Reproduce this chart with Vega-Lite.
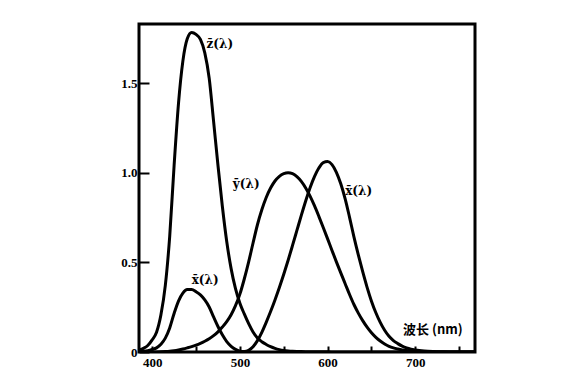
{
  "$schema": "https://vega.github.io/schema/vega-lite/v6.json",
  "autosize": {"type": "none"},
  "padding": {"left": 139, "top": 24, "right": 105, "bottom": 38},
  "width": 336,
  "height": 328,
  "background": "white",
  "config": {
    "view": {"stroke": "black", "strokeWidth": 3},
    "axis": {"grid": false, "domain": false, "tickColor": "black", "tickWidth": 2, "labelColor": "black", "labelFont": "Liberation Serif", "labelFontWeight": "bold", "labelFontSize": 13, "title": null}
  },
  "datasets": {
    "cmf": [
      {"wl":385,"fn":"x","v":0.0022},{"wl":390,"fn":"x","v":0.0042},{"wl":395,"fn":"x","v":0.0077},{"wl":400,"fn":"x","v":0.0143},{"wl":405,"fn":"x","v":0.0232},{"wl":410,"fn":"x","v":0.0435},{"wl":415,"fn":"x","v":0.0776},{"wl":420,"fn":"x","v":0.1344},{"wl":425,"fn":"x","v":0.2148},{"wl":430,"fn":"x","v":0.2839},{"wl":435,"fn":"x","v":0.3285},{"wl":440,"fn":"x","v":0.3483},{"wl":445,"fn":"x","v":0.3481},{"wl":450,"fn":"x","v":0.3362},{"wl":455,"fn":"x","v":0.3187},{"wl":460,"fn":"x","v":0.2908},{"wl":465,"fn":"x","v":0.2511},{"wl":470,"fn":"x","v":0.1954},{"wl":475,"fn":"x","v":0.1421},{"wl":480,"fn":"x","v":0.0956},{"wl":485,"fn":"x","v":0.0580},{"wl":490,"fn":"x","v":0.0320},{"wl":495,"fn":"x","v":0.0147},{"wl":500,"fn":"x","v":0.0049},{"wl":505,"fn":"x","v":0.0024},{"wl":510,"fn":"x","v":0.0093},{"wl":515,"fn":"x","v":0.0291},{"wl":520,"fn":"x","v":0.0633},{"wl":525,"fn":"x","v":0.1096},{"wl":530,"fn":"x","v":0.1655},{"wl":535,"fn":"x","v":0.2258},{"wl":540,"fn":"x","v":0.2904},{"wl":545,"fn":"x","v":0.3597},{"wl":550,"fn":"x","v":0.4334},{"wl":555,"fn":"x","v":0.5121},{"wl":560,"fn":"x","v":0.5945},{"wl":565,"fn":"x","v":0.6784},{"wl":570,"fn":"x","v":0.7621},{"wl":575,"fn":"x","v":0.8425},{"wl":580,"fn":"x","v":0.9163},{"wl":585,"fn":"x","v":0.9786},{"wl":590,"fn":"x","v":1.0263},{"wl":595,"fn":"x","v":1.0567},{"wl":600,"fn":"x","v":1.0622},{"wl":605,"fn":"x","v":1.0456},{"wl":610,"fn":"x","v":1.0026},{"wl":615,"fn":"x","v":0.9384},{"wl":620,"fn":"x","v":0.8545},{"wl":625,"fn":"x","v":0.7514},{"wl":630,"fn":"x","v":0.6424},{"wl":635,"fn":"x","v":0.5419},{"wl":640,"fn":"x","v":0.4479},{"wl":645,"fn":"x","v":0.3608},{"wl":650,"fn":"x","v":0.2835},{"wl":655,"fn":"x","v":0.2187},{"wl":660,"fn":"x","v":0.1649},{"wl":665,"fn":"x","v":0.1212},{"wl":670,"fn":"x","v":0.0874},{"wl":675,"fn":"x","v":0.0636},{"wl":680,"fn":"x","v":0.0468},{"wl":685,"fn":"x","v":0.0329},{"wl":690,"fn":"x","v":0.0227},{"wl":695,"fn":"x","v":0.0158},{"wl":700,"fn":"x","v":0.0114},{"wl":710,"fn":"x","v":0.0058},{"wl":720,"fn":"x","v":0.0029},{"wl":730,"fn":"x","v":0.0014},{"wl":740,"fn":"x","v":0.0007},{"wl":750,"fn":"x","v":0.0003},{"wl":760,"fn":"x","v":0.0002},{"wl":770,"fn":"x","v":0.0001},
      {"wl":385,"fn":"y","v":0.0001},{"wl":390,"fn":"y","v":0.0001},{"wl":395,"fn":"y","v":0.0002},{"wl":400,"fn":"y","v":0.0004},{"wl":405,"fn":"y","v":0.0006},{"wl":410,"fn":"y","v":0.0012},{"wl":415,"fn":"y","v":0.0022},{"wl":420,"fn":"y","v":0.0040},{"wl":425,"fn":"y","v":0.0073},{"wl":430,"fn":"y","v":0.0116},{"wl":435,"fn":"y","v":0.0168},{"wl":440,"fn":"y","v":0.0230},{"wl":445,"fn":"y","v":0.0298},{"wl":450,"fn":"y","v":0.0380},{"wl":455,"fn":"y","v":0.0480},{"wl":460,"fn":"y","v":0.0600},{"wl":465,"fn":"y","v":0.0739},{"wl":470,"fn":"y","v":0.0910},{"wl":475,"fn":"y","v":0.1126},{"wl":480,"fn":"y","v":0.1390},{"wl":485,"fn":"y","v":0.1693},{"wl":490,"fn":"y","v":0.2080},{"wl":495,"fn":"y","v":0.2586},{"wl":500,"fn":"y","v":0.3230},{"wl":505,"fn":"y","v":0.4073},{"wl":510,"fn":"y","v":0.5030},{"wl":515,"fn":"y","v":0.6082},{"wl":520,"fn":"y","v":0.7100},{"wl":525,"fn":"y","v":0.7932},{"wl":530,"fn":"y","v":0.8620},{"wl":535,"fn":"y","v":0.9149},{"wl":540,"fn":"y","v":0.9540},{"wl":545,"fn":"y","v":0.9803},{"wl":550,"fn":"y","v":0.9950},{"wl":555,"fn":"y","v":1.0000},{"wl":560,"fn":"y","v":0.9950},{"wl":565,"fn":"y","v":0.9786},{"wl":570,"fn":"y","v":0.9520},{"wl":575,"fn":"y","v":0.9154},{"wl":580,"fn":"y","v":0.8700},{"wl":585,"fn":"y","v":0.8163},{"wl":590,"fn":"y","v":0.7570},{"wl":595,"fn":"y","v":0.6949},{"wl":600,"fn":"y","v":0.6310},{"wl":605,"fn":"y","v":0.5668},{"wl":610,"fn":"y","v":0.5030},{"wl":615,"fn":"y","v":0.4412},{"wl":620,"fn":"y","v":0.3810},{"wl":625,"fn":"y","v":0.3210},{"wl":630,"fn":"y","v":0.2650},{"wl":635,"fn":"y","v":0.2170},{"wl":640,"fn":"y","v":0.1750},{"wl":645,"fn":"y","v":0.1382},{"wl":650,"fn":"y","v":0.1070},{"wl":655,"fn":"y","v":0.0816},{"wl":660,"fn":"y","v":0.0610},{"wl":665,"fn":"y","v":0.0446},{"wl":670,"fn":"y","v":0.0320},{"wl":675,"fn":"y","v":0.0232},{"wl":680,"fn":"y","v":0.0170},{"wl":685,"fn":"y","v":0.0119},{"wl":690,"fn":"y","v":0.0082},{"wl":695,"fn":"y","v":0.0057},{"wl":700,"fn":"y","v":0.0041},{"wl":710,"fn":"y","v":0.0021},{"wl":720,"fn":"y","v":0.0010},{"wl":730,"fn":"y","v":0.0005},{"wl":740,"fn":"y","v":0.0002},{"wl":750,"fn":"y","v":0.0001},{"wl":760,"fn":"y","v":0.0001},{"wl":770,"fn":"y","v":0.0000},
      {"wl":385,"fn":"z","v":0.0106},{"wl":390,"fn":"z","v":0.0201},{"wl":395,"fn":"z","v":0.0362},{"wl":400,"fn":"z","v":0.0679},{"wl":405,"fn":"z","v":0.1102},{"wl":410,"fn":"z","v":0.2074},{"wl":415,"fn":"z","v":0.3713},{"wl":420,"fn":"z","v":0.6456},{"wl":425,"fn":"z","v":1.0391},{"wl":430,"fn":"z","v":1.3856},{"wl":435,"fn":"z","v":1.6230},{"wl":440,"fn":"z","v":1.7471},{"wl":445,"fn":"z","v":1.7826},{"wl":450,"fn":"z","v":1.7721},{"wl":455,"fn":"z","v":1.7441},{"wl":460,"fn":"z","v":1.6692},{"wl":465,"fn":"z","v":1.5281},{"wl":470,"fn":"z","v":1.2876},{"wl":475,"fn":"z","v":1.0419},{"wl":480,"fn":"z","v":0.8130},{"wl":485,"fn":"z","v":0.6162},{"wl":490,"fn":"z","v":0.4652},{"wl":495,"fn":"z","v":0.3533},{"wl":500,"fn":"z","v":0.2720},{"wl":505,"fn":"z","v":0.2123},{"wl":510,"fn":"z","v":0.1582},{"wl":515,"fn":"z","v":0.1117},{"wl":520,"fn":"z","v":0.0783},{"wl":525,"fn":"z","v":0.0573},{"wl":530,"fn":"z","v":0.0422},{"wl":535,"fn":"z","v":0.0298},{"wl":540,"fn":"z","v":0.0203},{"wl":545,"fn":"z","v":0.0134},{"wl":550,"fn":"z","v":0.0088},{"wl":555,"fn":"z","v":0.0058},{"wl":560,"fn":"z","v":0.0039},{"wl":565,"fn":"z","v":0.0028},{"wl":570,"fn":"z","v":0.0021},{"wl":575,"fn":"z","v":0.0018},{"wl":580,"fn":"z","v":0.0017},{"wl":585,"fn":"z","v":0.0014},{"wl":590,"fn":"z","v":0.0011},{"wl":595,"fn":"z","v":0.0010},{"wl":600,"fn":"z","v":0.0008},{"wl":610,"fn":"z","v":0.0003},{"wl":620,"fn":"z","v":0.0002},{"wl":630,"fn":"z","v":0.0001},{"wl":650,"fn":"z","v":0.0000},{"wl":700,"fn":"z","v":0.0000},{"wl":770,"fn":"z","v":0.0000}
    ],
    "labels": [
      {"wl":462,"v":1.72,"label":"z̄(λ)"},
      {"wl":492,"v":0.94,"label":"ȳ(λ)"},
      {"wl":620,"v":0.90,"label":"x̄(λ)"},
      {"wl":445,"v":0.40,"label":"x̄(λ)"}
    ],
    "axislabel": [
      {"wl":686,"v":0.12,"label":"波长 (nm)"}
    ]
  },
  "layer": [
    {
      "data": {"name": "cmf"},
      "mark": {"type": "line", "color": "black", "strokeWidth": 3, "clip": true, "interpolate": "monotone"},
      "encoding": {
        "x": {"field": "wl", "type": "quantitative", "scale": {"domain": [385, 768], "nice": false, "zero": false},
          "axis": {"values": [400,450,500,550,600,650,700,750], "tickSize": -6, "labelPadding": 10, "labelExpr": "datum.value % 100 == 0 ? datum.label : ''"}},
        "y": {"field": "v", "type": "quantitative", "scale": {"domain": [0, 1.83], "nice": false},
          "axis": {"values": [0, 0.5, 1.0, 1.5], "tickSize": -10, "labelPadding": 12, "labelExpr": "datum.value == 0 ? '0' : format(datum.value, '.1f')"}},
        "detail": {"field": "fn"}
      }
    },
    {
      "data": {"name": "labels"},
      "mark": {"type": "text", "align": "left", "baseline": "middle", "font": "DejaVu Serif", "fontWeight": "bold", "fontSize": 12, "color": "black"},
      "encoding": {
        "x": {"field": "wl", "type": "quantitative"},
        "y": {"field": "v", "type": "quantitative"},
        "text": {"field": "label"}
      }
    },
    {
      "data": {"name": "axislabel"},
      "mark": {"type": "text", "align": "left", "baseline": "middle", "font": "Noto Sans CJK SC", "fontWeight": "bold", "fontSize": 13, "color": "black"},
      "encoding": {
        "x": {"field": "wl", "type": "quantitative"},
        "y": {"field": "v", "type": "quantitative"},
        "text": {"field": "label"}
      }
    }
  ]
}
